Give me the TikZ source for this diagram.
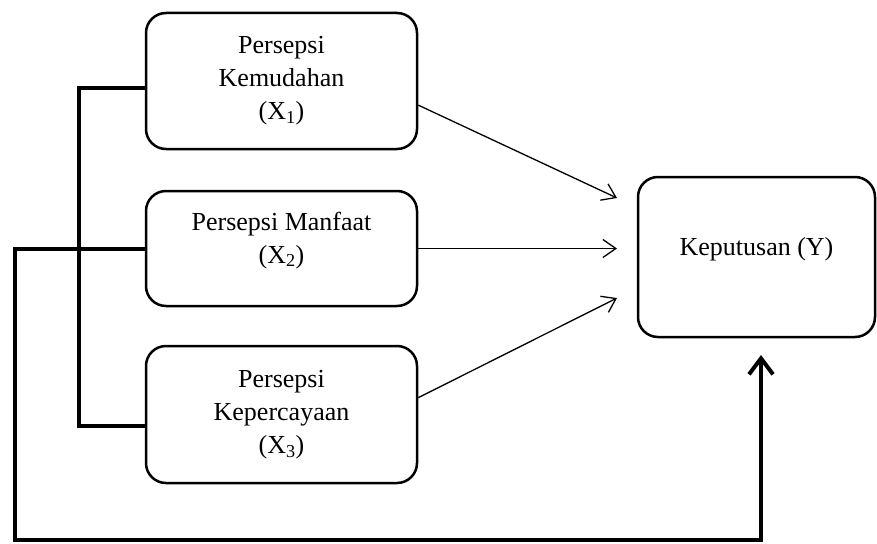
\documentclass[tikz,border=0pt]{standalone}
\usepackage{fontspec}
\setmainfont{Liberation Serif}
\usetikzlibrary{arrows.meta}
\begin{document}
\begin{tikzpicture}[x=1pt,y=-1pt,
  box/.style={draw, line width=2.5pt, rounded corners=20pt, align=center,
    font=\fontsize{26}{33}\selectfont, inner sep=0pt},
  thinarrow/.style={line width=1.3pt, -{Straight Barb[length=13pt,width=18pt]}},
  thickline/.style={line width=4pt},
  thickarrow/.style={line width=4pt, -{Straight Barb[length=16pt,width=24pt]}}]
\useasboundingbox (0,0) rectangle (877,543);
\node[box, minimum width=271pt, minimum height=136pt] (b1) at (281.5,81)
  {Persepsi\\Kemudahan\\(X\textsubscript{1})};
\node[box, minimum width=271pt, minimum height=115pt, text depth=22pt] (b2) at (281.5,248.5)
  {Persepsi Manfaat\\(X\textsubscript{2})};
\node[box, minimum width=271pt, minimum height=137pt] (b3) at (281.5,414.5)
  {Persepsi\\Kepercayaan\\(X\textsubscript{3})};
\node[box, minimum width=237pt, minimum height=160pt, text height=18pt, text depth=22pt] (y) at (756.5,257)
  {Keputusan (Y)};
% arrow ends
\coordinate (t1) at (617,198);
\coordinate (t2) at (617,248.5);
\coordinate (t3) at (617,298);
\coordinate (cx) at (79,300);
\coordinate (cl) at (15,540);
\coordinate (tip) at (761,355);
\draw[thinarrow] (b1.-10) -- (t1);
\draw[thinarrow] (b2.east) -- (t2);
\draw[thinarrow] (b3.7) -- (t3);
\draw[thickline] (b1.183) -| (cx) |- (b3.185);
\draw[thickarrow] (b2.west) -| (cl) -| (tip);
\end{tikzpicture}
\end{document}
